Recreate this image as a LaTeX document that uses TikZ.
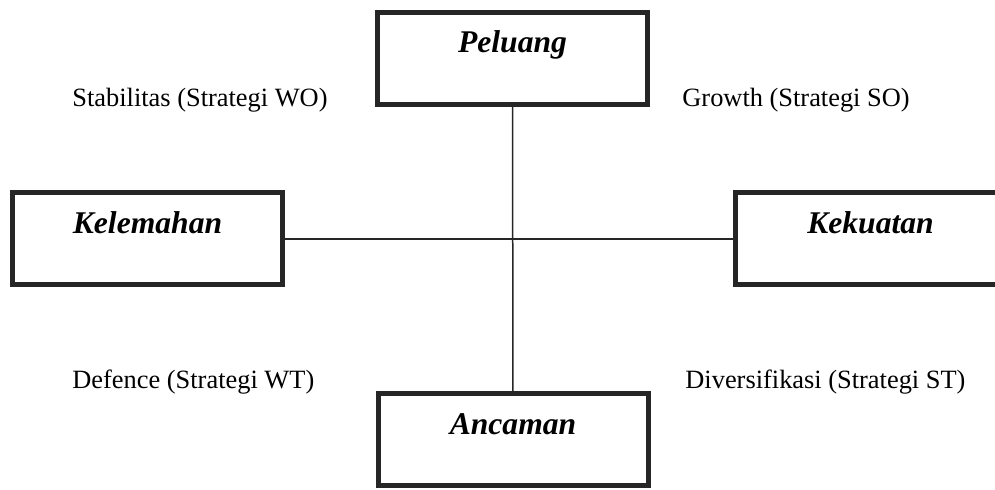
\documentclass[tikz,border=0pt]{standalone}
\usepackage{fontspec}
\setmainfont{Liberation Serif}
\usepackage{tikz}
\tikzset{swot/.style = {shape=rectangle,draw=black!85,line width=2.5pt,
    minimum width=135pt,minimum height=46pt,inner sep=0pt,
    text height=11pt,text depth=16.5pt,
    font=\fontsize{15.8}{18}\selectfont\bfseries\itshape}}
\tikzset{strat/.style = {anchor=base west,inner sep=0pt,
    font=\fontsize{13.2}{16}\selectfont}}

\begin{document}
\begin{tikzpicture}[x=0.5pt,y=-0.5pt]
                \useasboundingbox (0,0) rectangle (995,490);
                \node[swot] (O) at (512.5,58.5) {Peluang};
                \node[swot] (W) at (147.5,239) {Kelemahan};
                \node[swot] (S) at (870.5,239) {Kekuatan};
                \node[swot] (T) at (513,440) {Ancaman};

                \draw[black!85,line width=0.75pt] (O) -- (T);
                \draw[black!85,line width=0.75pt] (W) -- (S);

                \node[strat] (WO) at (72,107) {Stabilitas (Strategi WO)};
                \node[strat] (SO) at (682,107) {Growth (Strategi SO)};
                \node[strat] (WT) at (72,389) {Defence (Strategi WT)};
                \node[strat] (ST) at (685,389) {Diversifikasi (Strategi ST)};
            \end{tikzpicture}
\end{document}
